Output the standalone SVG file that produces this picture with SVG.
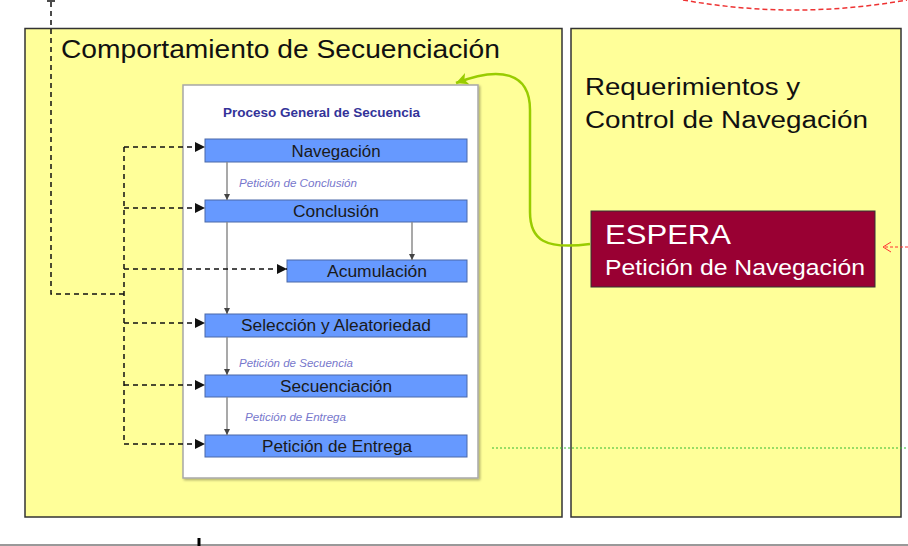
<svg xmlns="http://www.w3.org/2000/svg" width="908" height="546" viewBox="0 0 908 546">
<defs>
<style>
.panel{fill:#FFFF99;stroke:#333333;stroke-width:1.5}
.bar{fill:#6699FF;stroke:#4A68A8;stroke-width:1}
.bartxt{font-family:"Liberation Sans",Arial,sans-serif;font-size:16px;fill:#1A1A1A;text-anchor:middle}
.lbl{font-family:"Liberation Sans",Arial,sans-serif;font-size:11px;font-style:italic;fill:#7777CC}
.big{font-family:"Liberation Sans",Arial,sans-serif;fill:#111111}
.dash{fill:none;stroke:#111111;stroke-width:1.5;stroke-dasharray:5,4}
.flow{fill:none;stroke:#8C8C8C;stroke-width:1.5}
</style>
<marker id="ab" markerUnits="userSpaceOnUse" markerWidth="11" markerHeight="10" refX="10" refY="5" orient="auto">
<path d="M0,0 L10,5 L0,10 z" fill="#111111"/>
</marker>
<marker id="ag" markerUnits="userSpaceOnUse" markerWidth="7" markerHeight="6" refX="6" refY="3" orient="auto">
<path d="M0,0 L6,3 L0,6 z" fill="#444444"/>
</marker>
<marker id="agr" markerUnits="userSpaceOnUse" markerWidth="14" markerHeight="12" refX="12" refY="6" orient="auto">
<path d="M0,0 L12,6 L0,12 L3,6 z" fill="#99CC00"/>
</marker>
<marker id="ar" markerUnits="userSpaceOnUse" markerWidth="10" markerHeight="12" refX="9" refY="6" orient="auto">
<path d="M1,1 L9,6 L1,11" fill="none" stroke="#FF3333" stroke-width="1"/>
</marker>
<filter id="sh" x="-5%" y="-5%" width="110%" height="110%">
<feDropShadow dx="1.5" dy="1.5" stdDeviation="1" flood-color="#000" flood-opacity="0.3"/>
</filter>
</defs>
<rect width="908" height="546" fill="#FFFFFF"/>

<g id="panel-comportamiento">
<rect class="panel" x="25" y="28.5" width="537" height="488.5"/>
<text class="big" x="61" y="58" font-size="25" textLength="439" lengthAdjust="spacingAndGlyphs">Comportamiento de Secuenciación</text>
</g>

<g id="panel-requerimientos">
<rect class="panel" x="571" y="28.5" width="330" height="488.5"/>
<text class="big" x="585" y="95" font-size="23" textLength="215" lengthAdjust="spacingAndGlyphs">Requerimientos y</text>
<text class="big" x="585" y="128" font-size="23" textLength="283" lengthAdjust="spacingAndGlyphs">Control de Navegación</text>
</g>

<g id="proceso-general">
<rect x="183" y="85" width="295" height="393" fill="#FFFFFF" stroke="#A8A8A8" stroke-width="1.5" filter="url(#sh)"/>
<text x="223" y="117" font-family="'Liberation Sans',Arial,sans-serif" font-size="12" font-weight="bold" fill="#333399" textLength="197" lengthAdjust="spacingAndGlyphs">Proceso General de Secuencia</text>
</g>

<g id="navegacion">
<rect class="bar" x="205" y="139" width="262" height="23"/>
<text class="bartxt" x="336" y="156.5" textLength="89" lengthAdjust="spacingAndGlyphs">Navegación</text>
</g>
<g id="conclusion">
<rect class="bar" x="205" y="200" width="262" height="22"/>
<text class="bartxt" x="336" y="217" textLength="86" lengthAdjust="spacingAndGlyphs">Conclusión</text>
</g>
<g id="acumulacion">
<rect class="bar" x="287" y="260" width="180" height="22"/>
<text class="bartxt" x="377" y="277" textLength="100" lengthAdjust="spacingAndGlyphs">Acumulación</text>
</g>
<g id="seleccion">
<rect class="bar" x="205" y="314" width="262" height="23"/>
<text class="bartxt" x="336" y="331" textLength="190" lengthAdjust="spacingAndGlyphs">Selección y Aleatoriedad</text>
</g>
<g id="secuenciacion">
<rect class="bar" x="205" y="375" width="262" height="22"/>
<text class="bartxt" x="336" y="392" textLength="112" lengthAdjust="spacingAndGlyphs">Secuenciación</text>
</g>
<g id="peticion-entrega">
<rect class="bar" x="205" y="435" width="262" height="22"/>
<text class="bartxt" x="337" y="452" textLength="150" lengthAdjust="spacingAndGlyphs">Petición de Entrega</text>
</g>

<g id="espera">
<rect x="591" y="211" width="284" height="76" fill="#990033" stroke="#333333" stroke-width="1"/>
<text x="605" y="244" font-family="'Liberation Sans',Arial,sans-serif" font-size="28" fill="#FFFFFF" textLength="126" lengthAdjust="spacingAndGlyphs">ESPERA</text>
<text x="605" y="275" font-family="'Liberation Sans',Arial,sans-serif" font-size="22" fill="#FFFFFF" textLength="260" lengthAdjust="spacingAndGlyphs">Petición de Navegación</text>
</g>

<g id="connectors">
<!-- flow inside process -->
<line class="flow" x1="227" y1="162" x2="227" y2="200" marker-end="url(#ag)"/>
<line class="flow" x1="227" y1="222" x2="227" y2="314" marker-end="url(#ag)"/>
<line class="flow" x1="412" y1="222" x2="412" y2="260" marker-end="url(#ag)"/>
<line class="flow" x1="227" y1="337" x2="227" y2="375" marker-end="url(#ag)"/>
<line class="flow" x1="227" y1="397" x2="227" y2="435" marker-end="url(#ag)"/>
<text class="lbl" x="239" y="187" textLength="118" lengthAdjust="spacingAndGlyphs">Petición de Conclusión</text>
<text class="lbl" x="239" y="367" textLength="114" lengthAdjust="spacingAndGlyphs">Petición de Secuencia</text>
<text class="lbl" x="245" y="421" textLength="101" lengthAdjust="spacingAndGlyphs">Petición de Entrega</text>

<!-- dashed control lines -->
<path class="dash" d="M51,2 L51,294 L124,294"/>
<line x1="47" y1="1" x2="55" y2="1" stroke="#111111" stroke-width="1.5"/>
<line class="dash" x1="124" y1="147" x2="124" y2="444"/>
<line class="dash" x1="124" y1="147" x2="205" y2="147" marker-end="url(#ab)"/>
<line class="dash" x1="124" y1="208" x2="205" y2="208" marker-end="url(#ab)"/>
<line class="dash" x1="124" y1="269" x2="287" y2="269" marker-end="url(#ab)"/>
<line class="dash" x1="124" y1="323" x2="205" y2="323" marker-end="url(#ab)"/>
<line class="dash" x1="124" y1="385" x2="205" y2="385" marker-end="url(#ab)"/>
<line class="dash" x1="124" y1="444" x2="205" y2="444" marker-end="url(#ab)"/>

<!-- green curved arrow -->
<path d="M590,244 C545,250 530,240 530,212 L530,110 C530,72 500,66 456,83" fill="none" stroke="#99CC00" stroke-width="2.5" marker-end="url(#agr)"/>

<!-- green dotted line -->
<line x1="492" y1="448" x2="908" y2="448" stroke="#33BB33" stroke-width="1.2" stroke-dasharray="2,2"/>

<!-- red dashed arrow and arc -->
<line x1="908" y1="247" x2="883" y2="247" stroke="#FF3333" stroke-width="1" stroke-dasharray="3,2" marker-end="url(#ar)"/>
<path d="M683,0 Q795,20 907,0" fill="none" stroke="#EE3333" stroke-width="1.5" stroke-dasharray="5,3"/>
</g>

<line x1="0" y1="545" x2="908" y2="545" stroke="#999999" stroke-width="2"/>
<line x1="199" y1="538" x2="199" y2="546" stroke="#000000" stroke-width="3"/>
</svg>
